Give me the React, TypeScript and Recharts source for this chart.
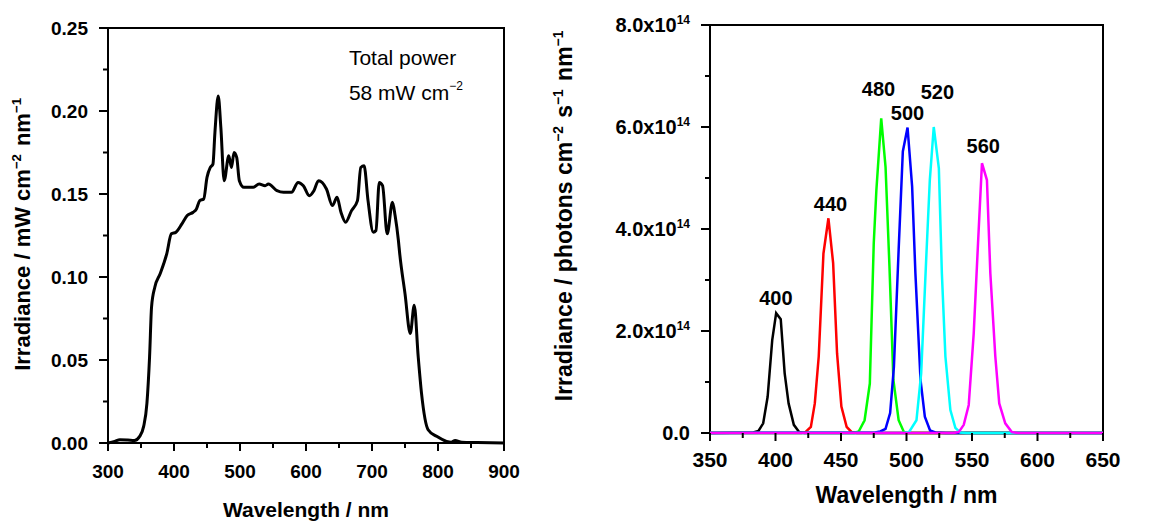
import React from 'react';
import { LineChart, Line, XAxis, YAxis, ReferenceArea, ReferenceDot } from 'recharts';

const FONT = '"Liberation Sans", Arial, Helvetica, sans-serif';

// ---- left panel: lamp spectrum (mW cm-2 nm-1) ----
const lampWavelength = [
  300, 310, 318, 330, 340, 348, 354, 359, 363, 366, 371, 379, 389, 396, 403, 412, 420, 429, 434, 439,
  445, 450, 455, 459, 462, 467, 471, 476, 483, 487, 491, 495, 499, 506, 520, 529, 538, 543, 556, 566,
  578, 588, 596, 605, 612, 619, 631, 640, 647, 653, 660, 669, 678, 683, 688, 694, 702, 706, 711, 716,
  723, 731, 735, 740, 742, 750, 758, 764, 770, 775, 785, 798, 813, 820, 826, 836, 860, 900,
];
const lampIrradiance = [
  0.0, 0.001, 0.002, 0.0018, 0.0015, 0.004, 0.01, 0.024, 0.052, 0.082, 0.094, 0.102, 0.114, 0.126, 0.127, 0.132, 0.137, 0.139, 0.141, 0.146,
  0.147, 0.16, 0.166, 0.168, 0.187, 0.209, 0.19, 0.158, 0.173, 0.166, 0.175, 0.172, 0.158, 0.154, 0.154, 0.156, 0.155, 0.156, 0.152, 0.151,
  0.151, 0.157, 0.155, 0.149, 0.152, 0.158, 0.153, 0.143, 0.148, 0.139, 0.133, 0.14, 0.146, 0.166, 0.167, 0.146, 0.127, 0.128, 0.157, 0.155,
  0.126, 0.145, 0.137, 0.122, 0.114, 0.09, 0.066, 0.083, 0.052, 0.03, 0.008, 0.004, 0.001, 0.0005, 0.0015, 0.0005, 0.0003, 0.0,
];
const lampXTicks = [300, 350, 400, 450, 500, 550, 600, 650, 700, 750, 800, 850, 900];
const lampXLabels = [300, 400, 500, 600, 700, 800, 900];
const lampYTicks = [0, 0.025, 0.05, 0.075, 0.1, 0.125, 0.15, 0.175, 0.2, 0.225, 0.25];
const lampYLabels = [0, 0.05, 0.1, 0.15, 0.2, 0.25];

// ---- right panel: LED bands (photons cm-2 s-1 nm-1) ----
const band400Wl = [350, 383, 387, 390.6, 394, 397.5, 400.5, 404, 407, 410, 414, 418, 422, 650];
const band400Val = [0, 0.01e14, 0.04e14, 0.19e14, 0.71e14, 1.82e14, 2.35e14, 2.23e14, 1.17e14, 0.58e14, 0.16e14, 0.02e14, 0, 0];
const band440Wl = [350, 420, 423, 427, 430, 433, 436.6, 440.4, 444, 447, 450.3, 454.3, 458, 462, 650];
const band440Val = [0, 0, 0.02e14, 0.12e14, 0.58e14, 1.5e14, 3.52e14, 4.21e14, 3.33e14, 1.56e14, 0.52e14, 0.12e14, 0.02e14, 0, 0];
const band480Wl = [350, 460, 463.5, 468, 472, 475, 477, 480.7, 484, 487, 490, 494, 498, 502, 650];
const band480Val = [0, 0, 0.03e14, 0.25e14, 0.97e14, 3.72e14, 4.76e14, 6.17e14, 5.22e14, 3.26e14, 1.04e14, 0.25e14, 0.02e14, 0, 0];
const band500Wl = [350, 476, 480, 484, 487.5, 490.4, 494, 497.2, 500.8, 504.3, 506.8, 510.7, 514, 518, 522, 530, 650];
const band500Val = [0, 0.01e14, 0.03e14, 0.08e14, 0.39e14, 1.3e14, 3.59e14, 5.52e14, 5.99e14, 4.83e14, 3.13e14, 1.04e14, 0.32e14, 0.05e14, 0.01e14, 0, 0];
const band520Wl = [350, 498, 502, 507.6, 511.2, 515, 517.8, 520.8, 524.7, 527, 529.7, 533.5, 537.3, 541, 546, 650];
const band520Val = [0, 0, 0.02e14, 0.25e14, 1.17e14, 3.39e14, 4.96e14, 6.0e14, 5.19e14, 3.13e14, 1.5e14, 0.45e14, 0.1e14, 0.01e14, 0, 0];
const band560Wl = [350, 536, 540, 543.7, 547.5, 551.3, 554.6, 557.6, 561.4, 564, 567.8, 570.8, 575.4, 580.4, 585, 650];
const band560Val = [0, 0, 0.02e14, 0.16e14, 0.55e14, 1.95e14, 3.72e14, 5.29e14, 4.96e14, 3.13e14, 1.5e14, 0.58e14, 0.19e14, 0.02e14, 0, 0];

const bandNames = ['400', '440', '480', '500', '520', '560'];
const bandColors = ['#000000', '#ff0000', '#00ff00', '#0000ff', '#00ffff', '#ff00ff'];
// where each peak label sits, in data units
const bandLabelWl = [400.3, 442, 478.6, 500.8, 523.6, 558.6];
const bandLabelVal = [2.65e14, 4.49e14, 6.75e14, 6.27e14, 6.69e14, 5.63e14];

const ledXTicks = [350, 375, 400, 425, 450, 475, 500, 525, 550, 575, 600, 625, 650];
const ledXLabels = [350, 400, 450, 500, 550, 600, 650];
const ledYTicks = [0, 1e14, 2e14, 3e14, 4e14, 5e14, 6e14, 7e14, 8e14];
const ledYLabels = [0, 2e14, 4e14, 6e14, 8e14];

const lampData = lampWavelength.map((wl, i) => ({ wl, irr: lampIrradiance[i] }));
const bands = [
  [band400Wl, band400Val],
  [band440Wl, band440Val],
  [band480Wl, band480Val],
  [band500Wl, band500Val],
  [band520Wl, band520Val],
  [band560Wl, band560Val],
].map(([wl, val], i) => ({
  name: bandNames[i],
  color: bandColors[i],
  points: wl.map((w, j) => ({ wl: w, v: val[j] })),
}));

const isMajor = (labels: number[], v: number) =>
  labels.some((l) => Math.abs(l - v) <= Math.abs(l) * 1e-9 + 1e-12);

const XTick = (props: any) => {
  const { x, y, payload, labels, size, dy } = props;
  const major = isMajor(labels, payload.value);
  return (
    <g>
      <line x1={x} x2={x} y1={y} y2={y + (major ? 8 : 5)} stroke="#000" strokeWidth={2} />
      {major && (
        <text x={x} y={y + dy} textAnchor="middle" fontFamily={FONT} fontWeight="bold" fontSize={size} fill="#000">
          {payload.value}
        </text>
      )}
    </g>
  );
};

const YTick = (props: any) => {
  const { x, y, payload, labels, size, sci } = props;
  const v = payload.value;
  const major = isMajor(labels, v);
  let label: React.ReactNode = null;
  if (major) {
    if (!sci) label = v.toFixed(2);
    else if (v === 0) label = '0.0';
    else
      label = (
        <>
          {(v / 1e14).toFixed(1)}x10
          <tspan dy={-8} fontSize={12}>14</tspan>
        </>
      );
  }
  return (
    <g>
      <line x1={x - (major ? 9 : 5)} x2={x} y1={y} y2={y} stroke="#000" strokeWidth={2} />
      {major && (
        <text x={x - 20} y={y + 7} textAnchor="end" fontFamily={FONT} fontWeight="bold" fontSize={size} fill="#000">
          {label}
        </text>
      )}
    </g>
  );
};

const sup = (t: string, size: number) => [
  <tspan key={t + 'a'} dy={-9} fontSize={size * 0.6}>{t}</tspan>,
  <tspan key={t + 'b'} dy={9} fontSize={size}>{'\u200a'}</tspan>,
];

const LampYTitle = (props: any) => {
  const { viewBox } = props;
  const cx = viewBox.x + 30;
  const cy = viewBox.y + viewBox.height / 2 - 2;
  return (
    <text x={cx} y={cy} transform={`rotate(-90, ${cx}, ${cy})`} textAnchor="middle" fontFamily={FONT} fontWeight="bold" fontSize={22} fill="#000">
      Irradiance / mW cm{sup('\u22122', 22)} nm{sup('\u22121', 22)}
    </text>
  );
};

const LedYTitle = (props: any) => {
  const { viewBox } = props;
  const cx = viewBox.x + 32;
  const cy = viewBox.y + viewBox.height / 2 - 14;
  return (
    <text x={cx} y={cy} transform={`rotate(-90, ${cx}, ${cy})`} textAnchor="middle" fontFamily={FONT} fontWeight="bold" fontSize={23} fill="#000">
      Irradiance / photons cm{sup('\u22122', 23)} s{sup('\u22121', 23)} nm{sup('\u22121', 23)}
    </text>
  );
};

const XTitle = (props: any) => {
  const { viewBox, dy, size } = props;
  return (
    <text x={viewBox.x + viewBox.width / 2} y={viewBox.y + dy} textAnchor="middle" fontFamily={FONT} fontWeight="bold" fontSize={size} fill="#000">
      Wavelength / nm
    </text>
  );
};

const PowerNote = (props: any) => {
  const { viewBox } = props;
  return (
    <text x={viewBox.x} y={viewBox.y} fontFamily={FONT} fontSize={21} fill="#000">
      <tspan x={viewBox.x}>Total power</tspan>
      <tspan x={viewBox.x} dy={35}>58 mW cm</tspan>
      <tspan dy={-10} fontSize={12}>{'\u22122'}</tspan>
    </text>
  );
};

const PeakLabel = (props: any) => {
  const { viewBox, text } = props;
  return (
    <text x={viewBox.x} y={viewBox.y + 7} textAnchor="middle" fontFamily={FONT} fontWeight="bold" fontSize={20} fill="#000">
      {text}
    </text>
  );
};

export default function App() {
  return (
    <div style={{ position: 'absolute', left: 0, top: 0, width: 1152, height: 521, background: '#fff' }}>
      <div style={{ position: 'absolute', left: 0, top: 0 }}>
        <LineChart width={540} height={521} data={lampData} margin={{ top: 28, right: 36, bottom: 0, left: 0 }}>
          <XAxis
            dataKey="wl"
            type="number"
            domain={[300, 900]}
            ticks={lampXTicks}
            interval={0}
            height={78}
            axisLine={false}
            tickLine={false}
            tickSize={0}
            tickMargin={0}
            tick={<XTick labels={lampXLabels} size={19} dy={35} />}
            label={<XTitle dy={74} size={21} />}
          />
          <YAxis
            type="number"
            domain={[0, 0.25]}
            ticks={lampYTicks}
            interval={0}
            width={108}
            axisLine={false}
            tickLine={false}
            tickSize={0}
            tickMargin={0}
            tick={<YTick labels={lampYLabels} size={19} />}
            label={<LampYTitle />}
          />
          <ReferenceArea x1={300} x2={900} y1={0} y2={0.25} fill="none" stroke="#000" strokeWidth={2} />
          <Line type="monotone" dataKey="irr" stroke="#000" strokeWidth={3} dot={false} isAnimationActive={false} />
          <ReferenceDot x={665} y={0.228} r={0} label={<PowerNote />} />
        </LineChart>
      </div>
      <div style={{ position: 'absolute', left: 540, top: 0 }}>
        <LineChart width={612} height={521} margin={{ top: 25, right: 49, bottom: 0, left: 0 }}>
          <XAxis
            dataKey="wl"
            type="number"
            domain={[350, 650]}
            ticks={ledXTicks}
            interval={0}
            height={88}
            axisLine={false}
            tickLine={false}
            tickSize={0}
            tickMargin={0}
            tick={<XTick labels={ledXLabels} size={21} dy={34} />}
            label={<XTitle dy={70} size={23} />}
          />
          <YAxis
            type="number"
            domain={[0, 8e14]}
            ticks={ledYTicks}
            interval={0}
            width={170}
            axisLine={false}
            tickLine={false}
            tickSize={0}
            tickMargin={0}
            tick={<YTick labels={ledYLabels} size={20} sci />}
            label={<LedYTitle />}
          />
          <ReferenceArea x1={350} x2={650} y1={0} y2={8e14} fill="none" stroke="#000" strokeWidth={2} />
          {bands.map((b) => (
            <Line
              key={b.name}
              data={b.points}
              dataKey="v"
              type="linear"
              stroke={b.color}
              strokeWidth={2.5}
              dot={false}
              isAnimationActive={false}
            />
          ))}
          {bands.map((b, i) => (
            <ReferenceDot key={'l' + b.name} x={bandLabelWl[i]} y={bandLabelVal[i]} r={0} label={<PeakLabel text={b.name} />} />
          ))}
        </LineChart>
      </div>
    </div>
  );
}
